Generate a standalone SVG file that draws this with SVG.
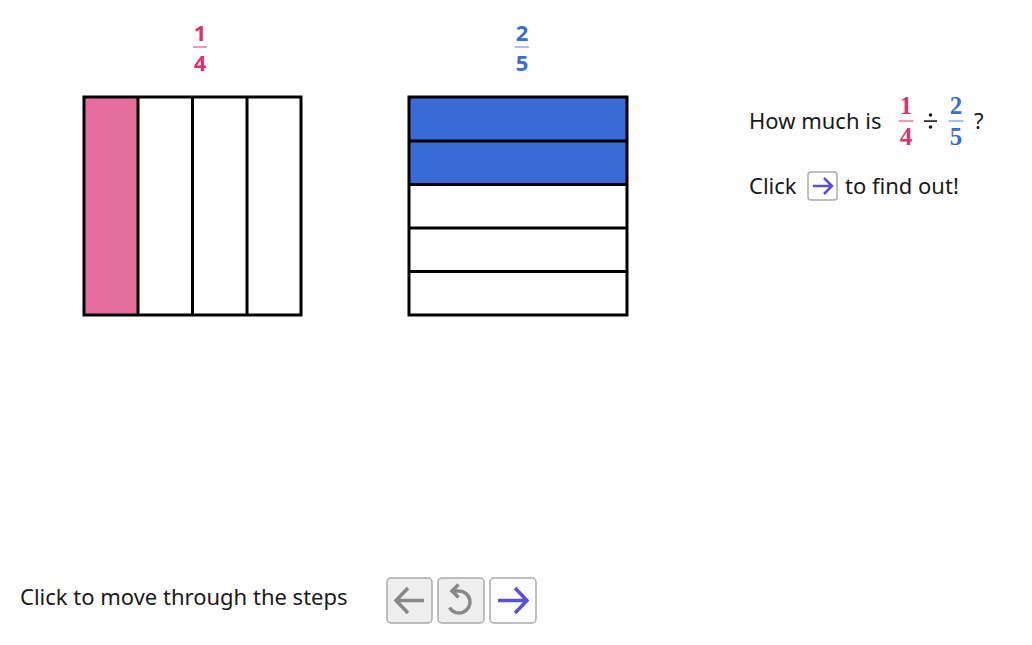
<svg xmlns="http://www.w3.org/2000/svg" width="1032" height="645" viewBox="0 0 1032 645">
<style>
.t{font-family:"Noto Sans","DejaVu Sans",sans-serif;font-size:22px;fill:#1a1a1a}
.fs{font-family:"Noto Sans","DejaVu Sans",sans-serif;font-size:22px;font-weight:bold;text-anchor:middle}
.ff{font-family:"Liberation Serif",serif;font-size:25px;font-weight:bold;text-anchor:middle}
.grid{fill:none;stroke:#000;stroke-width:3}
.btn{fill:#eeeeee;stroke:#aaaaaa;stroke-width:1.5}
.btnw{fill:#ffffff;stroke:#aaaaaa;stroke-width:1.5}
</style>
<rect width="1032" height="645" fill="#fff"/>
<g id="label-quarter">
<text class="fs" x="200" y="41" fill="#D6336F">1</text>
<line x1="193" y1="47" x2="207" y2="47" stroke="#E878A5" stroke-width="1.5"/>
<text class="fs" x="200" y="71" fill="#D6336F">4</text>
</g>
<g id="label-twofifths">
<text class="fs" x="522" y="41" fill="#3B6BD6">2</text>
<line x1="515" y1="47" x2="529" y2="47" stroke="#8DA8EC" stroke-width="1.5"/>
<text class="fs" x="522" y="71" fill="#3B6BD6">5</text>
</g>
<g id="quarter-square">
<rect x="84" y="97" width="54" height="218" fill="#E56E9F"/>
<rect class="grid" x="84" y="97" width="217" height="218"/>
<line class="grid" x1="138" y1="97" x2="138" y2="315"/>
<line class="grid" x1="192.5" y1="97" x2="192.5" y2="315"/>
<line class="grid" x1="247" y1="97" x2="247" y2="315"/>
</g>
<g id="fifths-square">
<rect x="409" y="97" width="218" height="87" fill="#386BD6"/>
<rect class="grid" x="409" y="97" width="218" height="218"/>
<line class="grid" x1="409" y1="141" x2="627" y2="141"/>
<line class="grid" x1="409" y1="184.5" x2="627" y2="184.5"/>
<line class="grid" x1="409" y1="228" x2="627" y2="228"/>
<line class="grid" x1="409" y1="271.5" x2="627" y2="271.5"/>
</g>
<g id="question">
<text class="t" x="749" y="129">How much is</text>
<text class="ff" x="906" y="114" fill="#D6336F">1</text>
<line x1="898.5" y1="121" x2="913.5" y2="121" stroke="#E878A5" stroke-width="1.5"/>
<text class="ff" x="906" y="145" fill="#D6336F">4</text>
<g fill="#1a1a1a">
<circle cx="930.5" cy="115" r="1.8"/>
<rect x="924" y="120.3" width="13" height="1.6"/>
<circle cx="930.5" cy="127" r="1.8"/>
</g>
<text class="ff" x="956" y="114" fill="#3B6BD6">2</text>
<line x1="948.5" y1="121" x2="963.5" y2="121" stroke="#8DA8EC" stroke-width="1.5"/>
<text class="ff" x="956" y="145" fill="#3B6BD6">5</text>
<text class="t" x="974" y="129">?</text>
</g>
<g id="instruction">
<text class="t" x="749" y="194">Click</text>
<rect class="btnw" x="808" y="172" width="29" height="28" rx="3"/>
<path d="M813 186 H831 M824 178 L832 186 L824 194" fill="none" stroke="#5B4FD6" stroke-width="2.5"/>
<text class="t" x="845" y="194">to find out!</text>
</g>
<g id="footer">
<text class="t" x="20" y="605">Click to move through the steps</text>
</g>
<g id="btn-back">
<rect class="btn" x="387" y="578" width="45" height="45" rx="4"/>
<path d="M424 600.5 H396 M408 588 L396 600.5 L408 613" fill="none" stroke="#888" stroke-width="3.5"/>
</g>
<g id="btn-reset">
<rect class="btn" x="438" y="578" width="46" height="45" rx="4"/>
<path d="M452 591 H459 A11 11 0 1 1 449.5 607.5" fill="none" stroke="#888" stroke-width="3.5"/>
<path d="M458.5 584.5 L452 591 L458.5 597.5" fill="none" stroke="#888" stroke-width="3.5"/>
</g>
<g id="btn-next">
<rect class="btnw" x="490" y="578" width="46" height="45" rx="4"/>
<path d="M498 600.5 H527 M515 588 L527 600.5 L515 613" fill="none" stroke="#5B4FD6" stroke-width="3.5"/>
</g>
</svg>
